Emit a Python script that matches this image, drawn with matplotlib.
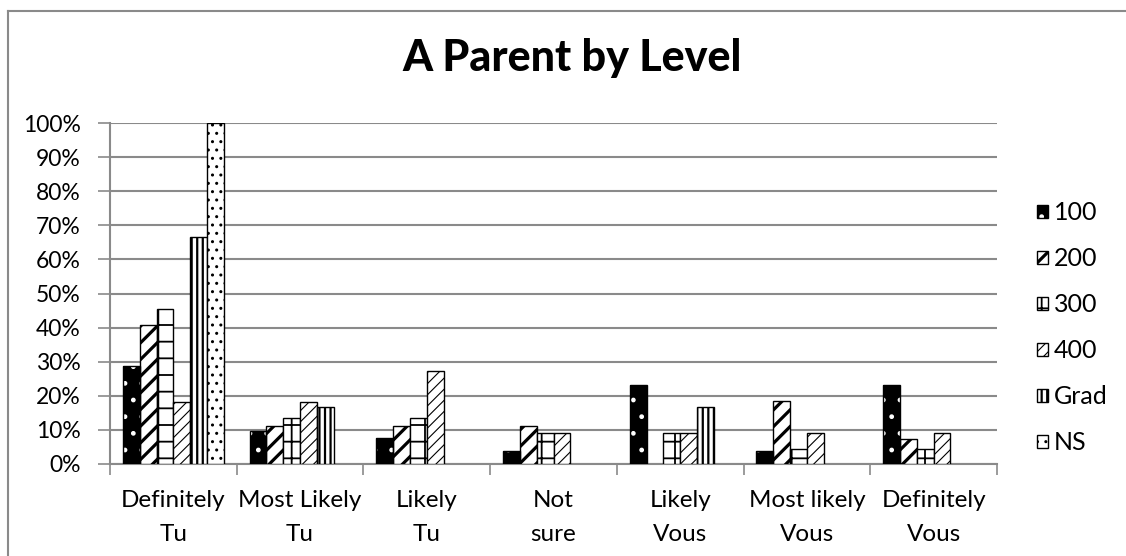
import matplotlib
matplotlib.use("Agg")
import matplotlib.pyplot as plt
import numpy as np
from matplotlib.patches import Patch
from matplotlib.lines import Line2D
from matplotlib.legend_handler import HandlerTuple

plt.rcParams['font.family'] = ['Lato', 'DejaVu Sans']

categories = ["Definitely\nTu", "Most Likely\nTu", "Likely\nTu", "Not\nsure",
              "Likely\nVous", "Most likely\nVous", "Definitely\nVous"]
series_names = ["100", "200", "300", "400", "Grad", "NS"]
lvl_100 = [28.8, 9.6, 7.7, 3.8, 23.1, 3.8, 23.1]
lvl_200 = [40.7, 11.1, 11.1, 11.1, 0.0, 18.5, 7.4]
lvl_300 = [45.5, 13.6, 13.6, 9.1, 9.1, 4.5, 4.5]
lvl_400 = [18.2, 18.2, 27.3, 9.1, 9.1, 9.1, 9.1]
lvl_grad = [66.7, 16.7, 0.0, 0.0, 16.7, 0.0, 0.0]
lvl_ns = [100.0, 0.0, 0.0, 0.0, 0.0, 0.0, 0.0]
y_ticks = [0, 10, 20, 30, 40, 50, 60, 70, 80, 90, 100]

series = [lvl_100, lvl_200, lvl_300, lvl_400, lvl_grad, lvl_ns]
hatches = ['.', '//', '+', '///', '|||', '..']
hatch_widths = {'.': 1.0, '//': 2.3, '+': 1.3, '///': 0.8, '|||': 1.6, '..': 1.0}

GRID = '#8a8a8a'

fig = plt.figure(figsize=(11.26, 5.56), dpi=100)
ax = fig.add_axes([110 / 1126, 92 / 556, 887 / 1126, 341 / 556])

x = np.arange(len(categories))
w = 0.133

handles = []
for i, (vals, hatch) in enumerate(zip(series, hatches)):
    vals = np.asarray(vals, dtype=float)
    keep = vals > 0
    xs = x[keep] + (i - 2.5) * w
    plt.rcParams['hatch.linewidth'] = hatch_widths[hatch]
    if i == 0:
        ax.bar(xs, vals[keep], w, color='black', edgecolor='white',
               hatch=hatch, linewidth=0, zorder=3)
        ax.bar(xs, vals[keep], w, fill=False, edgecolor='black',
               linewidth=1.0, zorder=4)
        handles.append((Patch(facecolor='black', edgecolor='white', hatch=hatch, linewidth=0),
                        Patch(fill=False, edgecolor='black', linewidth=1.0)))
    else:
        ax.bar(xs, vals[keep], w, facecolor='white', edgecolor='black',
               hatch=hatch, linewidth=1.0, zorder=3)
        handles.append(Patch(facecolor='white', edgecolor='black', hatch=hatch, linewidth=1.0))
plt.rcParams['hatch.linewidth'] = 1.0

ax.set_xlim(-0.5, len(categories) - 0.5)
ax.set_ylim(0, 100)
ax.set_yticks(y_ticks)
ax.set_yticklabels([f"{t}%" for t in y_ticks], fontsize=16.5)
ax.yaxis.grid(True, color=GRID, linewidth=1.5, zorder=0)
ax.set_axisbelow(True)

ax.set_xticks(x)
ax.set_xticklabels(categories, fontsize=17.5, linespacing=1.75)
ax.set_xticks(np.arange(len(categories) + 1) - 0.5, minor=True)
ax.tick_params(axis='x', which='major', length=0, pad=19)
ax.tick_params(axis='x', which='minor', length=8, width=1.2, color=GRID, direction='out')
ax.tick_params(axis='y', length=9, width=1.2, color=GRID, pad=12)

for s in ['top', 'right']:
    ax.spines[s].set_visible(False)
for s in ['left', 'bottom']:
    ax.spines[s].set_color(GRID)
    ax.spines[s].set_linewidth(1.5)

fig.text(572 / 1126, 1 - 58 / 556, "A Parent by Level", fontsize=31,
         fontweight='black', ha='center', va='center')

leg = fig.legend(handles, series_names, loc='upper left',
                 bbox_to_anchor=(1027 / 1126, 1 - 191 / 556),
                 frameon=False, fontsize=18, handlelength=0.42, handleheight=0.42,
                 handletextpad=0.25, labelspacing=0.92, borderaxespad=0,
                 handler_map={tuple: HandlerTuple(ndivide=1)})

# chart area border
fig.add_artist(Line2D([8 / 1126, 8 / 1126], [0, 1 - 11 / 556], transform=fig.transFigure,
                      color=GRID, linewidth=1.5))
fig.add_artist(Line2D([8 / 1126, 1], [1 - 11 / 556, 1 - 11 / 556], transform=fig.transFigure,
                      color=GRID, linewidth=1.5))


def apply_hatch_width(artist, lw):
    if hasattr(artist, 'set_hatch_linewidth'):
        artist.set_hatch_linewidth(lw)
    elif hasattr(artist, '_hatch_linewidth'):
        artist._hatch_linewidth = lw
    draw = artist.draw

    def wrapped(renderer, _draw=draw, _lw=lw):
        with plt.rc_context({'hatch.linewidth': _lw}):
            _draw(renderer)
    artist.draw = wrapped


for p in fig.findobj(lambda a: isinstance(a, Patch) and bool(a.get_hatch())):
    apply_hatch_width(p, hatch_widths.get(p.get_hatch(), 1.0))

fig.savefig("out.png", dpi=100)
